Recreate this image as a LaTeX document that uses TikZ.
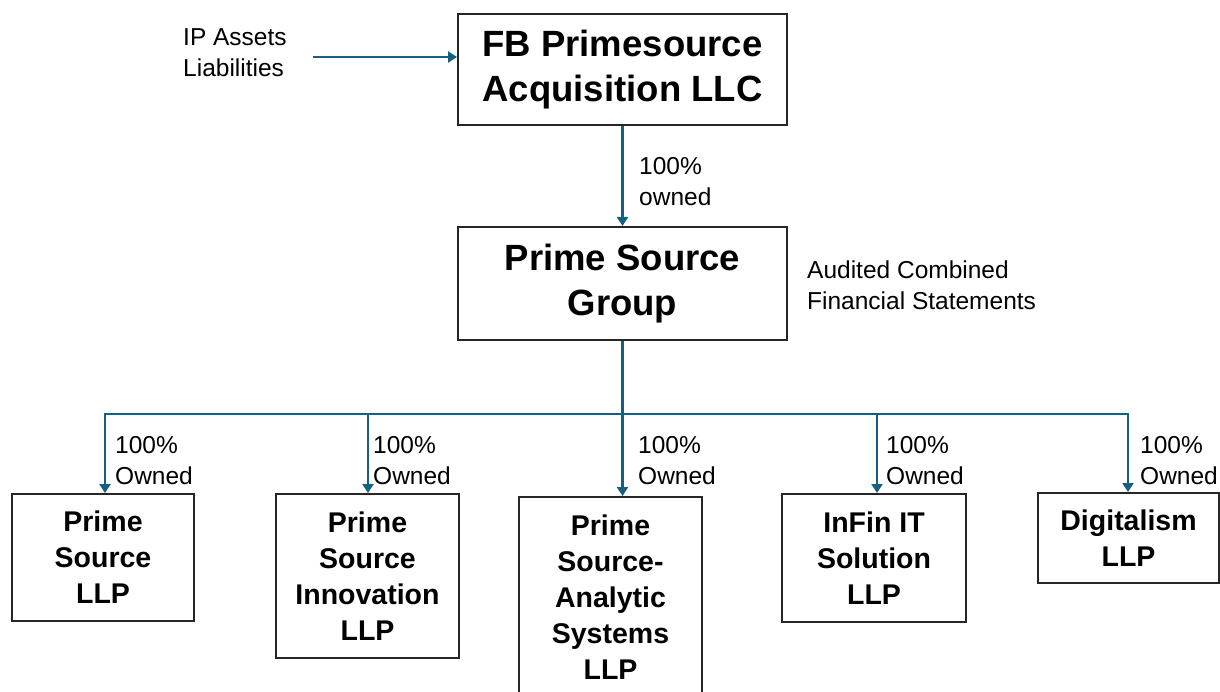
\documentclass[tikz,border=0pt]{standalone}
\usepackage{fontspec}
\setmainfont{Liberation Sans}
\usetikzlibrary{arrows.meta}
\definecolor{linkblue}{HTML}{156082}
\definecolor{boxline}{HTML}{262626}

\begin{document}
\begin{tikzpicture}[x=1pt,y=-1pt,
		box/.style={draw=boxline,line width=2pt,align=center,inner sep=0pt,font=\fontsize{36.5}{45.5}\selectfont\bfseries},
		firm/.style={draw=boxline,line width=2pt,align=center,inner sep=0pt,font=\fontsize{28.5}{36}\selectfont\bfseries},
		note/.style={align=left,inner sep=0pt,anchor=west,font=\fontsize{24.5}{31}\selectfont},
		conn/.style={draw=linkblue,line width=2.5pt},
		arr/.style={conn,-{Triangle[width=11pt,length=9pt]}}]
		\useasboundingbox (0,0) rectangle (1220,692);
		% top of the chart
		\node[box,minimum width=329pt,minimum height=111pt](fb) at (622.5,69.5){FB Primesource\\Acquisition LLC};
		\node[box,minimum width=329pt,minimum height=113pt](grp) at (622.5,283.5){Prime Source\\Group};
		\node[note](ip) at (183,52.5){IP Assets\\Liabilities};
		\node[note](aud) at (807,285.5){Audited Combined\\Financial Statements};
		\node[note](own0) at (639,182){100\%\\owned};
		\coordinate (src) at (313,57);
		\draw[arr] (src) -- (src -| fb.west);
		\draw[arr] (fb.south) -- (grp.north);
		% subsidiaries
		\node[firm,minimum width=182pt,minimum height=127pt](b1) at (103,557.5){Prime\\Source\\LLP};
		\node[firm,minimum width=183pt,minimum height=164pt](b2) at (367.5,576){Prime\\Source\\Innovation\\LLP};
		\node[firm,minimum width=183pt,minimum height=201pt](b3) at (610.5,597.5){Prime\\Source-\\Analytic\\Systems\\LLP};
		\node[firm,minimum width=184pt,minimum height=128pt](b4) at (874,558){InFin IT\\Solution\\LLP};
		\node[firm,minimum width=181pt,minimum height=90pt](b5) at (1128.5,538){Digitalism\\LLP};
		\foreach \n/\x in {1/105,2/368,3/622.5,4/877,5/1128}
			\coordinate (d\n) at (\x,414);
		\draw[conn] (grp.south) -- (grp.south |- d1);
		\draw[conn,line cap=rect] (d1) -- (d5);
		\foreach \n/\lx in {1/115,2/373,3/638,4/886,5/1140}{
			\draw[arr] (d\n) -- (d\n |- b\n.north);
			\node[note](own\n) at (\lx,460.5){100\%\\Owned};
		}
	\end{tikzpicture}
\end{document}
